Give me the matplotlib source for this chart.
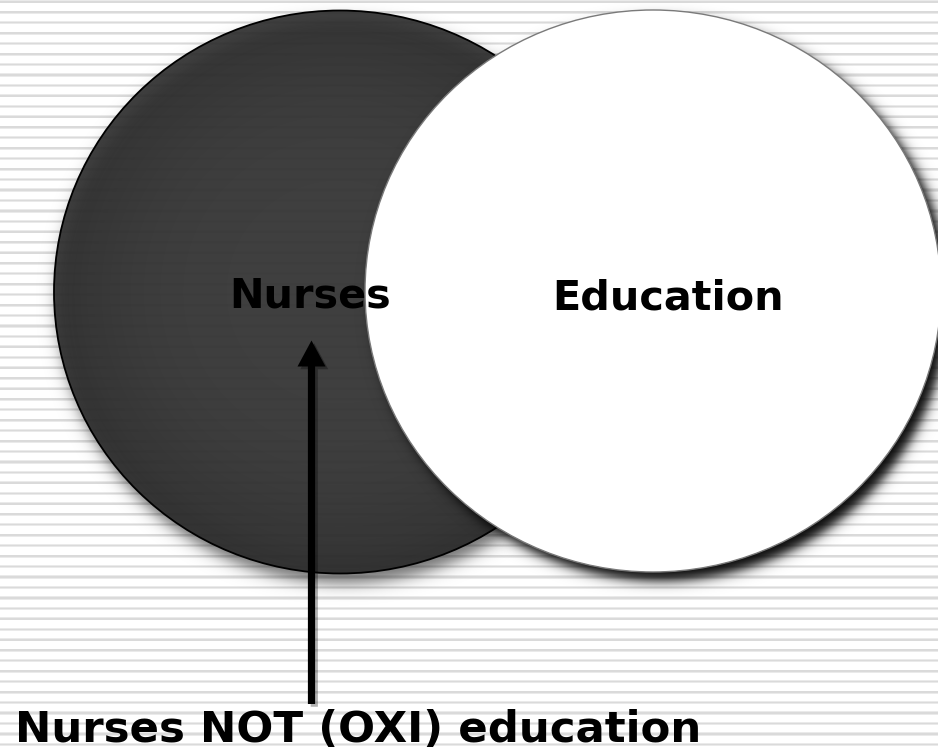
import numpy as np
import matplotlib
matplotlib.use("Agg")
import matplotlib.pyplot as plt
from matplotlib.patches import Ellipse, FancyArrow
import matplotlib.patheffects as pe

# ---- content ----
set_labels = ["Nurses", "Education"]
annotation = "Nurses NOT (OXI) education"

W, H = 938, 753
fig = plt.figure(figsize=(W / 100, H / 100), dpi=100)
ax = fig.add_axes([0, 0, 1, 1])
ax.set_xlim(0, W)
ax.set_ylim(H, 0)
ax.axis("off")

# ---- striped background ----
ax.add_patch(plt.Rectangle((0, 0), W, H, color="white", zorder=0))
period = 10.46
y = 0.5
while y < H:
    ax.axhspan(y - 0.3, y + 2.8, color="#eaeaea", lw=0, zorder=0.1)
    ax.axhspan(y + 0.4, y + 2.0, color="#dadada", lw=0, zorder=0.2)
    y += period

yy, xx = np.mgrid[0:H, 0:W] + 0.5


def shadow(cx, cy, rx, ry, dx, dy, soft, amax, z):
    d = np.sqrt(((xx - cx - dx) / rx) ** 2 + ((yy - cy - dy) / ry) ** 2) - 1.0
    d = d * (rx + ry) / 2
    a = amax * 0.5 * (1 - np.tanh(d / soft))
    img = np.zeros((H, W, 4))
    img[..., 3] = a
    ax.imshow(img, extent=(0, W, H, 0), zorder=z, interpolation="bilinear")


# circle geometry (pixels)
c1 = (340, 292, 286, 281.5)   # dark circle: cx, cy, rx, ry
c2 = (653, 291, 288, 281)     # white circle

# dark circle shadow
shadow(c1[0], c1[1], c1[2], c1[3], 4, 10, 9, 0.55, 1)

# dark circle with radial gradient
e1 = Ellipse((c1[0], c1[1]), 2 * c1[2], 2 * c1[3], facecolor="none",
             edgecolor="black", lw=1.3, zorder=2.5)
ax.add_patch(e1)
r = np.sqrt(((xx - c1[0]) / c1[2]) ** 2 + ((yy - c1[1]) / c1[3]) ** 2)
g = 0.225 - 0.06 * np.clip(r, 0, 1) ** 4
img = np.zeros((H, W, 4))
img[..., 0] = g
img[..., 1] = g
img[..., 2] = g
img[..., 3] = 0.9
im = ax.imshow(img, extent=(0, W, H, 0), zorder=2, interpolation="bilinear")
clip1 = Ellipse((c1[0], c1[1]), 2 * c1[2], 2 * c1[3], transform=ax.transData)
im.set_clip_path(clip1)

# white circle shadow
shadow(c2[0], c2[1], c2[2], c2[3], 8, 9, 7, 0.97, 3)

# white circle
e2 = Ellipse((c2[0], c2[1]), 2 * c2[2], 2 * c2[3], facecolor="white",
             edgecolor="#7a7a7a", lw=1.0, zorder=4)
ax.add_patch(e2)

# labels
fs = 29.8
ax.text(310, 307, set_labels[0], fontsize=fs, fontweight="bold",
        family="DejaVu Sans", ha="center", va="baseline", color="black", zorder=6)
ax.text(668, 309, set_labels[1], fontsize=fs, fontweight="bold",
        family="DejaVu Sans", ha="center", va="baseline", color="black", zorder=6)

# arrow
arr = FancyArrow(311.5, 704, 0, 340.5 - 704, width=7.2, head_width=28,
                 head_length=26, length_includes_head=True,
                 facecolor="black", edgecolor="none", zorder=7)
arr.set_path_effects([pe.SimplePatchShadow(offset=(2, -2), shadow_rgbFace="black", alpha=0.3),
                      pe.Normal()])
ax.add_patch(arr)

# annotation
ax.text(15, 742, annotation, fontsize=31.3, fontweight="bold",
        family="DejaVu Sans", ha="left", va="baseline", color="black", zorder=8)

fig.savefig("out.png", dpi=100)
